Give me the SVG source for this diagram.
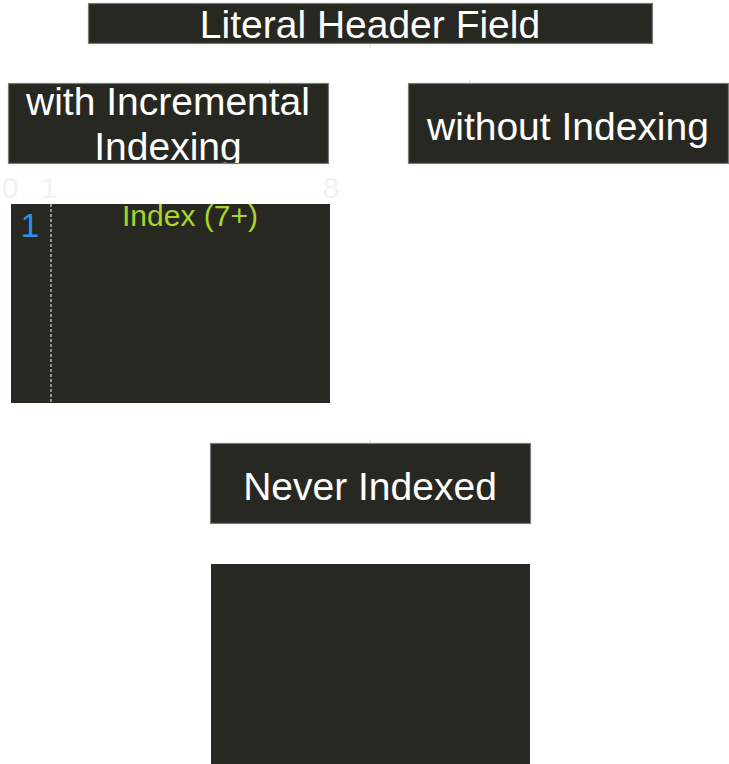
<svg xmlns="http://www.w3.org/2000/svg" width="729" height="764" viewBox="0 0 729 764">
<style>
.box{fill:#282823;stroke:#7a7a7a;stroke-width:1.2}
.blk{fill:#282823}
.t{font-family:"Liberation Sans",Arial,sans-serif;font-size:39px;fill:#ffffff;text-anchor:middle}
.bit{font-family:"Liberation Sans",Arial,sans-serif;font-size:30px;fill:#f2f2f2;text-anchor:middle}
.tick{stroke:#ececec;stroke-width:2}
</style>
<defs>
<clipPath id="c1"><rect x="8" y="83" width="320" height="80"/></clipPath>
</defs>
<rect width="729" height="764" fill="#ffffff"/>
<g id="connectors">
<line class="tick" x1="370" y1="44" x2="370" y2="48"/>
<line class="tick" x1="270" y1="80" x2="270" y2="83"/>
<line class="tick" x1="470" y1="80" x2="470" y2="83"/>
<line class="tick" x1="370" y1="440" x2="370" y2="443"/>
</g>
<g id="literal-header-field">
<rect class="box" x="88.5" y="3.5" width="564" height="40"/>
<text class="t" x="370" y="38">Literal Header Field</text>
</g>
<g id="with-incremental-indexing">
<rect class="box" x="8.5" y="83.5" width="320" height="80"/>
<g clip-path="url(#c1)">
<text class="t" x="168" y="115">with Incremental</text>
<text class="t" x="168" y="160">Indexing</text>
</g>
</g>
<g id="without-indexing">
<rect class="box" x="408.5" y="83.5" width="320" height="80"/>
<text class="t" x="568" y="140">without Indexing</text>
</g>
<g id="bit-layout">
<text class="bit" x="10" y="198">0</text>
<text class="bit" x="49" y="198">1</text>
<text class="bit" x="331" y="198">8</text>
<rect class="blk" x="11" y="204" width="319" height="199"/>
<line x1="51" y1="204" x2="51" y2="403" stroke="#d8d8d8" stroke-width="1.2" stroke-dasharray="3,2"/>
<text x="30" y="237" font-family="'Liberation Sans',Arial,sans-serif" font-size="33" fill="#2f8fe8" text-anchor="middle">1</text>
<text x="190" y="226" font-family="'Liberation Sans',Arial,sans-serif" font-size="30" fill="#a6d72a" text-anchor="middle">Index (7+)</text>
</g>
<g id="never-indexed">
<rect class="box" x="210.5" y="443.5" width="320" height="80"/>
<text class="t" x="370" y="500">Never Indexed</text>
</g>
<g id="never-indexed-layout">
<rect class="blk" x="211" y="564" width="319" height="200"/>
</g>
</svg>
